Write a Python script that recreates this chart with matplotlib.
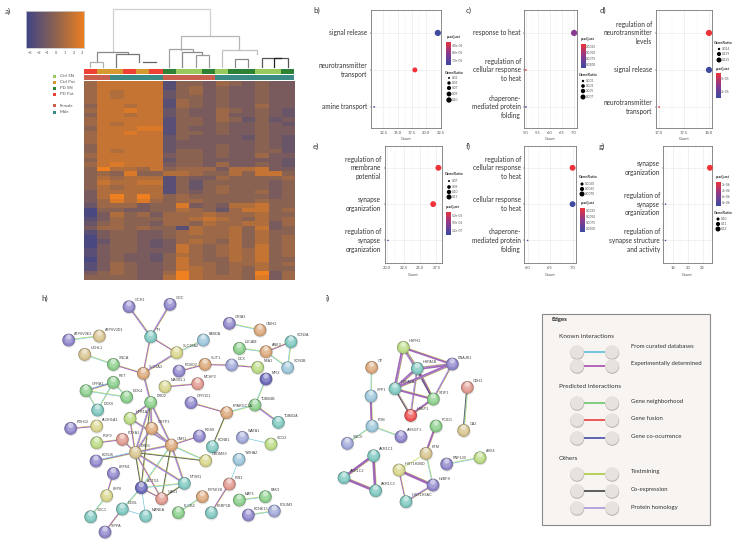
import numpy as np
import matplotlib
matplotlib.use("Agg")
import matplotlib.pyplot as plt
from matplotlib.colors import LinearSegmentedColormap, to_rgb
from matplotlib.patches import Circle, Rectangle
from matplotlib.ticker import FormatStrFormatter

plt.rcParams['font.family'] = ['Lato', 'DejaVu Sans']
W, H = 738, 545

# ---------- a) heat map values (0 = low, 9 = high) ----------
heat_rows = """5777771443543433
5777771453433433
5767772453433433
5767772443433433
5777771543433433
4776771543433533
5778772433543432
4776772433533432
5777771443542423
5767771443433432
4777881433433433
5778771443433433
5777772433332432
5777772333333432
4777772333433432
4767772443433442
5777773443433533
4777772443333332
5787773443533432
4966574555366733
4548446654464774
4656661433544445
4766771424444434
4656661424544434
3666661434544534
3696964544444434
3586854554444544
2555344834366744
0443344654257745
0364535556555644
1354445567654645
2454435546556635
3554544165564734
1344334565564644
0344334555564645
0244323565464645
0344323754564745
1344333754565745
1343324654565745
0343324754465744
1354334755455645
1354334765454644
3454335965454935
4444336965554835""".split()
cond_codes = ["PP", "CP", "CP", "PP", "CP", "PP", "PS", "CS", "CS", "PS", "CS", "PS", "PS", "CS", "CS", "PS"]
sex_codes = ["F", "F", "M", "M", "M", "M", "F", "F", "F", "F", "M", "M", "M", "M", "M", "M"]
cond_names = ["Ctrl SN", "Ctrl Put", "PD SN", "PD Put"]
cond_keys = ["CS", "CP", "PS", "PP"]
sex_names = ["Female", "Male"]
sex_keys = ["F", "M"]
cond_cols = {"CS": "#97c95c", "CP": "#d49a2e", "PS": "#2f8136", "PP": "#ee4035"}
sex_cols = {"F": "#c9604f", "M": "#3a8a85"}
cbar_ticks = [-3, -2, -1, 0, 1, 2, 3]

# dendrogram links: (left x, right x, join y, left bottom y, right bottom y, grey)
dendro = [
    (113, 210, 9, 52, 36, "#d0d0d0"),
    (181, 239, 36, 50, 50, "#b5b5b5"),
    (97, 128, 52, 62, 54, "#8a8a8a"),
    (90, 103, 62, 67, 67, "#b0b0b0"),
    (116, 139, 54, 67, 62, "#777777"),
    (129, 129, 67, 67, 67, "#777777"),
    (143, 156, 62, 62, 62, "#666666"),
    (169, 193, 49, 67, 52, "#a0a0a0"),
    (182, 202, 52, 67, 55, "#888888"),
    (196, 209, 55, 67, 67, "#999999"),
    (222, 257, 50, 67, 54, "#c0c0c0"),
    (235, 248, 59, 67, 67, "#888888"),
    (262, 288, 58, 67, 67, "#555555"),
    (274, 281, 58, 67, 58, "#222222"),
]

# ---------- b)-g) dot plots ----------
b_terms = ["amine transport", "neurotransmitter\ntransport", "signal release"]
b_count = [10.9, 18, 22]
b_color = ["#3d4a9e", "#ee3338", "#3d4a9e"]
b_size = [1.5, 13, 20]
c_terms = ["chaperone-\nmediated protein\nfolding", "regulation of\ncellular response\nto heat", "response to heat"]
c_count = [5, 5, 7]
c_color = ["#3d4a9e", "#ee3338", "#8a3a90"]
c_size = [1.5, 1.5, 20]
d_terms = ["neurotransmitter\ntransport", "signal release", "regulation of\nneurotransmitter\nlevels"]
d_count = [17, 18, 18]
d_color = ["#ee3338", "#3d4a9e", "#ee3338"]
d_size = [1.5, 20, 20]
e_terms = ["regulation of\nsynapse\norganization", "synapse\norganization", "regulation of\nmembrane\npotential"]
e_count = [20.1, 27, 27.8]
e_color = ["#3d4a9e", "#ee3338", "#ee3338"]
e_size = [1.2, 18, 18]
f_terms = ["chaperone-\nmediated protein\nfolding", "cellular response\nto heat", "regulation of\ncellular response\nto heat"]
f_count = [6, 7, 7]
f_color = ["#6a3fa0", "#3d4a9e", "#ee3338"]
f_size = [1.2, 18, 18]
g_terms = ["regulation of\nsynapse structure\nand activity", "regulation of\nsynapse\norganization", "synapse\norganization"]
g_count = [17, 17, 23]
g_color = ["#3d4a9e", "#3d4a9e", "#ee3338"]
g_size = [1.2, 1.2, 18]

b_ticks = [12.5, 15.0, 17.5, 20.0, 22.5]
c_ticks = [5.0, 5.5, 6.0, 6.5, 7.0]
d_ticks = [17.0, 17.5, 18.0]
e_ticks = [20.0, 22.5, 25.0, 27.5]
f_ticks = [6.0, 6.5, 7.0]
g_ticks = [18, 20, 22]

b_p = ["4.0e-05", "8.0e-05", "7.0e-05"]
b_g = ["0.02", "0.05", "0.07", "0.09", "0.10"]
c_p = ["0.0025", "0.0050", "0.0075", "0.0100"]
c_g = ["0.002", "0.003", "0.005", "0.007"]
d_p = ["1e-05", "2e-05"]
d_g = ["0.014", "0.119", "0.125"]
e_p = ["5.0e-06", "9.0e-06", "1.2e-07"]
e_g = ["0.07", "0.09", "0.10", "0.11"]
f_p = ["0.0025", "0.0050", "0.0075", "0.0100"]
f_g = ["0.0060", "0.0065", "0.0070"]
g_p = ["2e-06", "4e-06", "6e-06", "8e-06"]
g_g = ["0.10", "0.11", "0.12"]

# ---------- h) / i) networks: name, x, y, colour key ----------
h_nodes = [
 ("GCH1",297,65,"p"),("GDC",420,58,"p"),("TH",362,155,"t"),("ATP6V0E2",116,165,"p"),("ATP6V0D1",208,153,"n"),
 ("GRIA3",598,115,"p"),("CNIH1",690,135,"o"),("FABDA",520,165,"b"),("SLC18A2",440,203,"y"),("UCHL1",164,208,"n"),
 ("SNCA",250,238,"g"),("SLC6A3",340,265,"o"),("ROBO2",447,258,"p"),("SLIT1",525,238,"o"),("DCX",605,240,"v"),
 ("NFA1",683,247,"l"),("L1CAM",628,190,"g"),("ANK3",708,200,"o"),("SCN3A",783,170,"t"),("SCN3B",773,248,"b"),
 ("RET",250,292,"g"),("GFRA1",168,317,"g"),("DOK4",290,336,"g"),("DOK6",203,375,"t"),("DRD2",362,352,"g"),
 ("MAGEL1",405,305,"y"),("MCHP2",503,296,"s"),("GPR151",483,353,"p"),("MFI2",708,282,"d"),("TUBB4B",675,360,"g"),
 ("PPARGC1A",590,383,"o"),("TUBB2A",745,412,"t"),("HTR1A",300,400,"l"),("GSTP1",365,430,"o"),("FOXA1",277,463,"s"),
 ("CNR1",424,480,"o"),("RGS9",508,453,"p"),("KCNB1",547,485,"t"),("CRDMS3",527,527,"y"),("RDH12",122,430,"p"),
 ("ALDH1A1",200,423,"y"),("FGF9",200,473,"l"),("DRD1",316,502,"n"),("KCNJ6",198,528,"p"),("NTSR1",463,595,"t"),
 ("ACTG1",334,608,"d"),("GAD1",395,641,"s"),("LRFN1",250,565,"p"),("LRP8",230,632,"y"),("SDC1",182,695,"t"),
 ("DCBL",277,672,"t"),("MANEA",347,693,"t"),("SIPPA",225,741,"p"),("PIP5K1B",517,635,"o"),("PLCB2",445,683,"g"),
 ("PEBP1B",544,683,"t"),("PIN1",598,597,"s"),("YWHAZ",627,523,"b"),("WATA1",637,457,"v"),("SCG2",723,477,"l"),
 ("MAF1",628,645,"g"),("PAK3",706,635,"g"),("KCNK13",655,690,"p"),("PDLIM3",733,678,"v"),
]
h_edges = [
 ("GCH1","TH","tep"),("GDC","TH","tep"),("TH","SLC18A2","te"),("TH","SLC6A3","te"),("SLC18A2","FABDA","tc"),
 ("SLC18A2","SLC6A3","tep"),("ATP6V0E2","ATP6V0D1","tc"),("GRIA3","CNIH1","tc"),("UCHL1","SNCA","tc"),
 ("SNCA","SLC6A3","te"),("SLC6A3","DRD2","tep"),("ROBO2","SLIT1","te"),("SLIT1","DCX","te"),("DCX","NFA1","te"),
 ("L1CAM","ANK3","tc"),("ANK3","SCN3A","te"),("ANK3","SCN3B","tc"),("SCN3A","SCN3B","tc"),("RET","GFRA1","tec"),
 ("RET","DOK4","tc"),("RET","DOK6","tc"),("GFRA1","DOK6","tc"),("GFRA1","DOK4","tc"),("MAGEL1","MCHP2","te"),
 ("MFI2","TUBB4B","tc"),("TUBB4B","PPARGC1A","tc"),("TUBB4B","TUBB2A","tep"),("GPR151","PPARGC1A","te"),
 ("PPARGC1A","KCNB1","tk"),("RDH12","ALDH1A1","te"),("FGF9","FOXA1","te"),("DRD2","HTR1A","tep"),
 ("DRD2","GSTP1","tep"),("DRD2","DRD1","tep"),("DRD2","CNR1","tep"),("DRD2","ACTG1","tk"),("HTR1A","CNR1","tep"),
 ("HTR1A","DRD1","te"),("GSTP1","DRD1","tep"),("GSTP1","CNR1","tep"),("DRD1","CNR1","tep"),("FOXA1","DRD1","te"),
 ("CNR1","RGS9","te"),("CNR1","CRDMS3","tc"),("CNR1","NTSR1","tep"),("CNR1","GAD1","tk"),("CNR1","ACTG1","tc"),
 ("DRD1","CRDMS3","tk"),("DRD1","KCNJ6","tec"),("DRD1","NTSR1","tep"),("DRD1","ACTG1","tk"),("DRD1","GAD1","te"),
 ("ACTG1","NTSR1","tc"),("ACTG1","GAD1","te"),("GAD1","NTSR1","tk"),("ACTG1","DCBL","tc"),("ACTG1","MANEA","c"),
 ("DCBL","MANEA","c"),("DCBL","SIPPA","te"),("LRFN1","LRP8","te"),("LRP8","SDC1","tc"),("PIP5K1B","PLCB2","tc"),
 ("PIN1","YWHAZ","c"),("PIN1","PEBP1B","te"),("WATA1","SCG2","c"),("MAF1","PAK3","tc"),("KCNK13","PDLIM3","tc"),
]
i_nodes = [
 ("HSPH1",250,172,"l"),("HSPA1B",292,235,"t"),("DNAJB1",397,222,"p"),("HSPA1A",225,296,"t"),("STIP1",340,327,"g"),
 ("HSBP1",272,376,"r"),("CP",155,232,"o"),("SPP1",153,318,"b"),("FGB",156,408,"b"),("SNCV",82,460,"v"),
 ("AHSGT1",243,440,"p"),("CDH1",442,292,"s"),("CA2",431,421,"n"),("PCID1",348,408,"g"),("KTM",318,490,"n"),
 ("RNF130",380,522,"p"),("ASS4",480,503,"l"),("AKR1C1",161,497,"t"),("AKR1C2",72,563,"t"),("AKR1C3",167,602,"t"),
 ("HIST1H2BD",237,540,"y"),("H2BFS",339,585,"p"),("HIST1H3AC",258,635,"t"),
]
i_edges = [
 ("HSPH1","HSPA1B","tepP"),("HSPH1","DNAJB1","teP"),("HSPH1","HSPA1A","tepP"),("HSPH1","STIP1","tep"),
 ("HSPA1B","DNAJB1","tepP"),("HSPA1B","HSPA1A","tepP"),("HSPA1B","STIP1","tePk"),("HSPA1B","HSBP1","tep"),
 ("DNAJB1","HSPA1A","tepP"),("DNAJB1","STIP1","tep"),("HSPA1A","STIP1","teP"),("HSPA1A","HSBP1","tek"),
 ("STIP1","HSBP1","teP"),("CP","SPP1","tc"),("SPP1","FGB","teP"),("FGB","SNCV","tc"),("FGB","AHSGT1","tc"),
 ("CDH1","CA2","tck"),("PCID1","KTM","teP"),("KTM","H2BFS","tc"),("KTM","HIST1H2BD","t"),("RNF130","ASS4","tc"),
 ("AKR1C1","AKR1C2","tePP"),("AKR1C1","AKR1C3","tePP"),("AKR1C2","AKR1C3","tePP"),
 ("HIST1H2BD","H2BFS","tePP"),("HIST1H2BD","HIST1H3AC","te"),("H2BFS","HIST1H3AC","tep"),
]

# ---------- legend text ----------
legend_heads = ["Known interactions", "Predicted interactions", "Others"]
legend_items = ["From curated databases", "Experimentally determined", "Gene neighborhood", "Gene fusion",
                "Gene co-ocurrence", "Textmining", "Co-expression", "Protein homology"]
legend_cols = ["#4cb8d8", "#a040a8", "#60c060", "#e83030", "#3540a0", "#a0c830", "#333333", "#a090d8"]

node_cols = {"p": "#9088cc", "t": "#80c8c0", "b": "#9cc6da", "n": "#d8c490", "o": "#dca97c", "g": "#8ccf8c",
             "y": "#d8d68c", "s": "#e09a90", "l": "#bbdb84", "d": "#6e6cbc", "v": "#a0a8d8", "r": "#ee5555"}
edge_cols = {"t": "#bcd750", "e": "#a860b8", "P": "#a268b8", "p": "#a79cdc", "c": "#74c8dc", "k": "#555555"}
edge_lw = {"t": 0.5, "e": 0.7, "P": 1.1, "p": 0.6, "c": 0.5, "k": 0.6}


def place(x0, y0, x1, y1, **kw):
    return fig.add_axes([x0 / W, 1 - y1 / H, (x1 - x0) / W, (y1 - y0) / H], **kw)


fig = plt.figure(figsize=(W / 100, H / 100), dpi=100, facecolor="white")
ov = place(0, 0, W, H, zorder=5)
ov.set_xlim(0, W)
ov.set_ylim(H, 0)
ov.axis("off")
ov.patch.set_alpha(0)

# panel letters
for s, x, y in [("a)", 5, 11), ("b)", 313, 10), ("c)", 466, 10), ("d)", 600, 10), ("e)", 313, 146),
                ("f)", 466, 146), ("g)", 599, 146), ("h)", 41, 298), ("i)", 326, 298)]:
    ov.text(x, y, s, fontsize=5.8, color="#333333", va="center", ha="left")

# ---------- a) ----------
cmap = LinearSegmentedColormap.from_list("hm", ["#3f4488", "#8c6350", "#ee8020"])
ax = place(83.7, 81.3, 294, 279.7)
data = np.array([[int(c) for c in r] for r in heat_rows], float)
ax.imshow(data, aspect="auto", cmap=cmap, vmin=-0.7, vmax=9, interpolation="nearest")
ax.axis("off")

ann = place(83.7, 69, 294, 79.5)
ann.set_xlim(0, 16)
ann.set_ylim(2, 0)
ann.axis("off")
for i, (a, b) in enumerate(zip(cond_codes, sex_codes)):
    ann.bar(i + .5, 1, 1, 0, color=cond_cols[a], lw=0)
    ann.bar(i + .5, .95, 1, 1.05, color=sex_cols[b], lw=0)

cb = place(25.5, 11, 84, 48)
cb.imshow(np.linspace(-3, 3, 200)[None, :], aspect="auto", cmap=cmap, vmin=-3, vmax=3, extent=[-3.5, 3.2, 0, 1])
cb.set_yticks([])
cb.set_xticks(cbar_ticks)
cb.tick_params(labelsize=2.8, length=1, width=.3, pad=1.5, colors="#555555")
for sp in cb.spines.values():
    sp.set_color("#cccccc")
    sp.set_linewidth(.6)

for y, k, n in zip([76, 82, 88, 94], cond_keys, cond_names):
    ov.add_patch(Rectangle((52.5, y - 1.5), 3, 3, color=cond_cols[k], lw=0))
    ov.text(60, y, n, fontsize=3.2, color="#555555", va="center")
for y, k, n in zip([105.7, 112], sex_keys, sex_names):
    ov.add_patch(Rectangle((52.5, y - 1.5), 3, 3, color=sex_cols[k], lw=0))
    ov.text(60, y, n, fontsize=3.2, color="#555555", va="center")
for xl, xr, yj, yl, yr, c in dendro:
    ov.plot([xl, xl, xr, xr], [yl, yj, yj, yr], color=c, lw=.9, solid_joinstyle="miter")


# ---------- dot plots ----------
def dotplot(box, xlim, ticks, terms, count, color, size, lab_x, ylim):
    x0, y0, x1, y1 = box
    a = place(x0, y0, x1, y1)
    a.set_ylim(*ylim)
    a.set_yticks(range(3))
    a.set_yticklabels([])
    a.set_xticks(ticks)
    step = (ticks[1] - ticks[0]) / 2
    a.set_xticks(np.arange(ticks[0] - step * 2, ticks[-1] + step * 2, step), minor=True)
    a.set_xlim(*xlim)
    a.grid(True, which="major", color="#e6e6e6", lw=.4)
    a.grid(True, which="minor", axis="x", color="#f1f1f1", lw=.3)
    a.set_axisbelow(True)
    a.tick_params(axis="x", which="minor", length=0)
    a.tick_params(axis="x", labelsize=3, length=1, width=.3, pad=1.5, colors="#555555")
    a.tick_params(axis="y", length=1, width=.3)
    a.xaxis.set_major_formatter(FormatStrFormatter("%d" if isinstance(ticks[0], int) else "%.1f"))
    for sp in a.spines.values():
        sp.set_color("#777777")
        sp.set_linewidth(.6)
    a.scatter(count, range(3), s=size, c=color, lw=0, zorder=3, clip_on=False)
    for i, t in enumerate(terms):
        px = y0 + (y1 - y0) * (ylim[1] - i) / (ylim[1] - ylim[0])
        ov.text(lab_x, px, t, ha="right", va="center", fontsize=4.7, color="#333333", linespacing=1.3)
    ov.text((x0 + x1) / 2, y1 + 11.5, "Count", fontsize=2.9, color="#555555", ha="center", va="center")


top, low = (-0.57, 2.62), (-0.62, 2.6)
dotplot((371, 10, 441, 128), (10.36, 22.55), b_ticks, b_terms, b_count, b_color, b_size, 367, top)
dotplot((524, 10, 577, 128), (4.92, 7.12), c_ticks, c_terms, c_count, c_color, c_size, 521, top)
dotplot((656, 10, 712, 128), (16.94, 18.06), d_ticks, d_terms, d_count, d_color, d_size, 652, top)
dotplot((385, 146, 441.7, 263), (19.65, 28.3), e_ticks, e_terms, e_count, e_color, e_size, 381, low)
dotplot((524, 146, 575.7, 263), (5.92, 7.07), f_ticks, f_terms, f_count, f_color, f_size, 521, low)
dotplot((663.3, 146, 711.7, 263), (16.7, 23.24), g_ticks, g_terms, g_count, g_color, g_size, 660, low)

pad = LinearSegmentedColormap.from_list("pa", ["#ee3338", "#8a3a90", "#3d4a9e"])


def p_legend(title_xy, bar, labels, title="p.adjust"):
    ov.text(*title_xy, title, fontsize=2.9, color="#333333", ha="center", va="center", fontweight="bold")
    x0, y0, x1, y1 = bar
    a = place(x0, y0, x1, y1, zorder=6)
    a.imshow(np.linspace(0, 1, 60)[:, None], aspect="auto", cmap=pad)
    a.axis("off")
    for i, t in enumerate(labels):
        y = y0 + (y1 - y0) * (i + .5) / len(labels)
        ov.text(x1 + .7, y, t, fontsize=2.3, color="#555555", va="center")


def g_legend(title_xy, x, ys, sizes, labels, title="GeneRatio"):
    ov.text(*title_xy, title, fontsize=2.9, color="#333333", ha="center", va="center", fontweight="bold")
    ov.scatter([x] * len(ys), ys, s=sizes, c="black", lw=0)
    for y, t in zip(ys, labels):
        ov.text(x + 2.5, y, t, fontsize=2.3, color="#555555", va="center")


p_legend((454, 37), (446, 41.7, 451, 65), b_p)
g_legend((454, 73), 449, [78, 83, 88, 94, 100], [2, 6, 9, 12, 15], b_g)
p_legend((588, 39), (581, 44, 585.5, 68), c_p)
g_legend((588, 75), 583, [81, 86, 91, 97], [3, 7, 10, 13], c_g)
g_legend((723, 43), 719, [49, 54, 60], [3, 9, 13], d_g)
p_legend((723, 69), (716, 73, 720.5, 98), d_p)
g_legend((454, 174), 449, [181, 187, 192, 197], [2, 7, 10, 13], e_g)
p_legend((453, 207), (446, 212, 451, 235), e_p)
g_legend((588, 177), 582, [184, 189, 194], [5, 9, 13], f_g)
p_legend((588, 203), (580, 208, 585, 232), f_p)
p_legend((723, 177), (716, 182, 721, 206), g_p)
g_legend((723, 213), 718, [219, 224, 229], [5, 9, 13], g_g)


# ---------- networks ----------
def lerp(c, t, by=1.0):
    r = np.array(to_rgb(c))
    return tuple(r + (by - r) * t)


def sphere(a, x, y, col, R=19):
    a.add_patch(Circle((x + 1, y + 3), R + 1, color="#000000", alpha=.12, lw=0, zorder=3))
    a.add_patch(Circle((x, y), R, color=lerp(col, .38, 0.15), lw=0, zorder=3))
    a.add_patch(Circle((x, y + 1), R - 1.5, color=lerp(col, .1, 0.15), lw=0, zorder=3))
    a.add_patch(Circle((x, y), R - 3.5, color=col, lw=0, zorder=3))
    a.add_patch(Circle((x, y - 2), R - 7, color=lerp(col, .2), lw=0, zorder=3))
    a.add_patch(Circle((x, y - 9), R - 11, color=lerp(col, .55), lw=0, zorder=3))


def network(box, xlim, ylim, nodes, edges):
    a = place(*box, zorder=4)
    a.set_xlim(*xlim)
    a.set_ylim(*ylim)
    a.axis("off")
    a.patch.set_alpha(0)
    pos = {n[0]: (n[1], n[2]) for n in nodes}
    for u, v, kinds in edges:
        p, q = np.array(pos[u], float), np.array(pos[v], float)
        d = q - p
        nrm = np.array([-d[1], d[0]]) / np.hypot(*d)
        for i, k in enumerate(kinds):
            off = (i - (len(kinds) - 1) / 2) * 1.9
            a.plot(*zip(p + nrm * off, q + nrm * off), color=edge_cols[k], lw=edge_lw[k], zorder=2,
                   solid_capstyle="butt")
    for name, x, y, c in nodes:
        sphere(a, x, y, node_cols[c])
        a.text(x + 17, y - 19, name, fontsize=2.7, color="#444444", va="center", ha="left", zorder=5,
               family=["Liberation Sans", "DejaVu Sans"])


network((30, 285, 330, 545), (0, 900), (780, 0), h_nodes, h_edges)
network((320, 290, 520, 520), (0, 600), (690, 0), i_nodes, i_edges)

# ---------- edge legend ----------
ov.add_patch(Rectangle((542, 314), 168, 211, fc="#f7f4f1", ec="#8a8a8a", lw=.8))
ov.text(551, 320, "Edges", fontsize=4.3, fontweight="bold", color="#222222", va="center")
for t, y in zip(legend_heads, [336, 387, 458]):
    ov.text(559, y, t, fontsize=4.6, color="#333333", va="center")
for t, c, ty, ly in zip(legend_items, legend_cols, [347, 363, 402, 419, 437, 472, 489, 507],
                        [352, 366, 403, 420, 438, 474, 491, 508]):
    for x in (577, 612):
        ov.add_patch(Circle((x + .2, ly + .8), 7, color="#b8b4ae", lw=0, zorder=3))
        ov.add_patch(Circle((x, ly), 6.7, color="#e6e2dd", lw=0, zorder=3))
    ov.plot([584, 605], [ly, ly], color=c, lw=1.1, zorder=4, solid_capstyle="butt")
    ov.text(631, ty, t, fontsize=4.3, color="#333333", va="center")

fig.savefig("out.png", dpi=100)
